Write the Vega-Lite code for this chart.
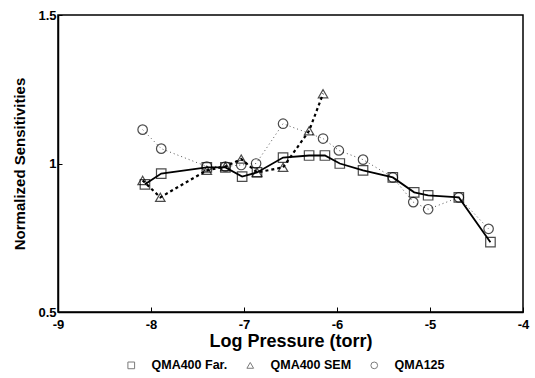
{
  "$schema": "https://vega.github.io/schema/vega-lite/v6.json",
  "width": 465,
  "height": 297,
  "autosize": {"type": "none"},
  "padding": {"left": 58, "top": 15, "right": 12, "bottom": 66},
  "background": "white",
  "config": {
    "view": {"stroke": "black", "strokeWidth": 1.5},
    "font": "Liberation Sans",
    "axis": {"grid": false, "domainColor": "black", "tickColor": "black", "labelColor": "black", "titleColor": "black", "labelFont": "Liberation Sans", "titleFont": "Liberation Sans", "labelFontWeight": "bold", "titleFontWeight": "bold"}
  },
  "data": {
    "values": [
      {"s": "QMA400 Far.", "x": -8.065, "y": 0.93},
      {"s": "QMA400 Far.", "x": -7.89, "y": 0.966},
      {"s": "QMA400 Far.", "x": -7.40, "y": 0.987},
      {"s": "QMA400 Far.", "x": -7.20, "y": 0.987},
      {"s": "QMA400 Far.", "x": -7.02, "y": 0.956},
      {"s": "QMA400 Far.", "x": -6.86, "y": 0.97},
      {"s": "QMA400 Far.", "x": -6.58, "y": 1.02},
      {"s": "QMA400 Far.", "x": -6.30, "y": 1.027},
      {"s": "QMA400 Far.", "x": -6.13, "y": 1.027},
      {"s": "QMA400 Far.", "x": -5.97, "y": 1.0},
      {"s": "QMA400 Far.", "x": -5.72, "y": 0.977},
      {"s": "QMA400 Far.", "x": -5.40, "y": 0.953},
      {"s": "QMA400 Far.", "x": -5.17, "y": 0.903},
      {"s": "QMA400 Far.", "x": -5.02, "y": 0.893},
      {"s": "QMA400 Far.", "x": -4.69, "y": 0.886},
      {"s": "QMA400 Far.", "x": -4.35, "y": 0.735},
      {"s": "QMA400 SEM", "x": -8.09, "y": 0.943},
      {"s": "QMA400 SEM", "x": -7.90, "y": 0.886},
      {"s": "QMA400 SEM", "x": -7.40, "y": 0.977},
      {"s": "QMA400 SEM", "x": -7.20, "y": 0.99},
      {"s": "QMA400 SEM", "x": -7.03, "y": 1.015},
      {"s": "QMA400 SEM", "x": -6.86, "y": 0.97},
      {"s": "QMA400 SEM", "x": -6.58, "y": 0.987},
      {"s": "QMA400 SEM", "x": -6.30, "y": 1.11},
      {"s": "QMA400 SEM", "x": -6.15, "y": 1.235},
      {"s": "QMA125", "x": -8.09, "y": 1.114},
      {"s": "QMA125", "x": -7.89, "y": 1.05},
      {"s": "QMA125", "x": -7.40, "y": 0.99},
      {"s": "QMA125", "x": -7.20, "y": 0.99},
      {"s": "QMA125", "x": -7.03, "y": 0.995},
      {"s": "QMA125", "x": -6.87, "y": 1.0},
      {"s": "QMA125", "x": -6.58, "y": 1.134},
      {"s": "QMA125", "x": -6.15, "y": 1.084},
      {"s": "QMA125", "x": -5.98, "y": 1.044},
      {"s": "QMA125", "x": -5.72, "y": 1.013},
      {"s": "QMA125", "x": -5.40, "y": 0.953},
      {"s": "QMA125", "x": -5.18, "y": 0.87},
      {"s": "QMA125", "x": -5.02, "y": 0.846},
      {"s": "QMA125", "x": -4.69, "y": 0.886},
      {"s": "QMA125", "x": -4.37, "y": 0.78}
    ]
  },
  "encoding": {
    "x": {
      "field": "x", "type": "quantitative",
      "scale": {"domain": [-9, -4], "nice": false, "zero": false},
      "axis": {"title": "Log Pressure (torr)", "values": [-9, -8, -7, -6, -5, -4], "labelExpr": "'' + datum.value", "tickSize": -5, "labelPadding": 11, "labelFontSize": 13, "titleFontSize": 18, "titlePadding": 1, "domainWidth": 1.5, "labelFlush": false}
    },
    "y": {
      "field": "y", "type": "quantitative",
      "scale": {"domain": [0.5, 1.5], "nice": false, "zero": false},
      "axis": {"title": "Normalized Sensitivities", "values": [0.5, 1, 1.5], "labelExpr": "'' + datum.value", "tickSize": -4, "labelPadding": 6, "labelFontSize": 13, "titleFontSize": 15, "titlePadding": 10, "domainWidth": 1.5, "labelFlush": false}
    }
  },
  "layer": [
    {
      "transform": [{"filter": "datum.s === 'QMA125'"}],
      "mark": {"type": "line", "color": "#555", "strokeWidth": 1, "strokeDash": [1, 3]},
      "encoding": {}
    },
    {
      "transform": [{"filter": "datum.s === 'QMA400 SEM'"}],
      "mark": {"type": "line", "color": "black", "strokeWidth": 2.2, "strokeDash": [3, 3]},
      "encoding": {}
    },
    {
      "transform": [{"filter": "datum.s === 'QMA400 Far.'"}],
      "mark": {"type": "line", "color": "black", "strokeWidth": 1.8},
      "encoding": {}
    },
    {
      "mark": {"type": "point", "color": "black", "filled": false, "size": 90, "strokeWidth": 1.2},
      "encoding": {
        "shape": {
          "field": "s", "type": "nominal",
          "scale": {"domain": ["QMA400 Far.", "QMA400 SEM", "QMA125"], "range": ["square", "triangle-up", "circle"]},
          "legend": {"title": null, "orient": "none", "direction": "horizontal", "legendX": 67, "legendY": 344, "symbolSize": 45, "symbolStrokeColor": "#444", "symbolStrokeWidth": 1, "labelFont": "Liberation Sans", "labelFontWeight": "bold", "labelFontSize": 12.5, "labelColor": "black", "labelOffset": 14, "columnPadding": 16, "symbolFillColor": "transparent"}
        }
      }
    }
  ]
}
